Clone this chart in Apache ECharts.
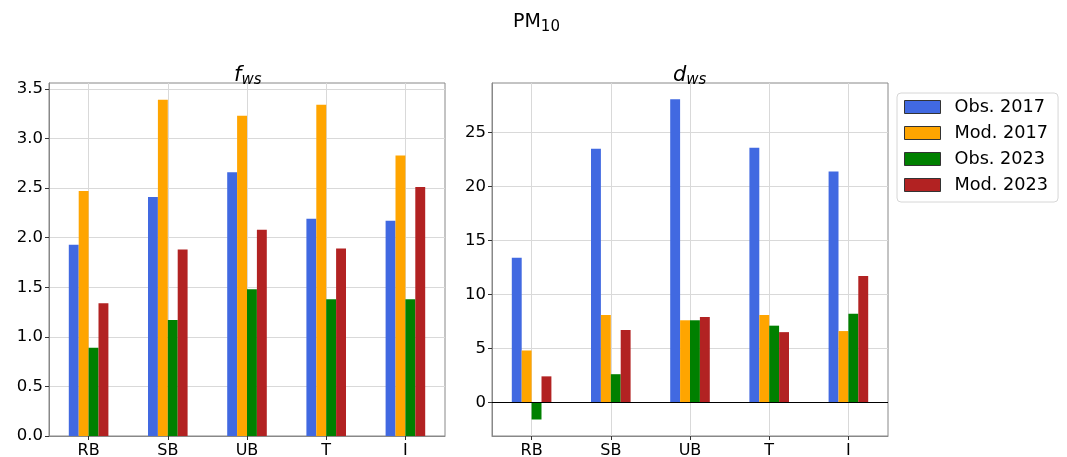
<!DOCTYPE html>
<html>
<head>
<meta charset="utf-8">
<script src="https://cdn.jsdelivr.net/npm/echarts@6/dist/echarts.min.js"></script>
<style>
  html, body { margin: 0; padding: 0; background: #fff; }
  #chart { width: 1067px; height: 457px; }
</style>
</head>
<body>
<div id="chart"></div>
<script>
// data
const stations = ['RB', 'SB', 'UB', 'T', 'I']
const seriesNames = ['Obs. 2017', 'Mod. 2017', 'Obs. 2023', 'Mod. 2023']
const colors = ['#4169E1', '#FFA500', '#008000', '#B22222']

// f_ws
const fwsObs2017 = [1.93, 2.41, 2.66, 2.19, 2.17]
const fwsMod2017 = [2.47, 3.39, 3.23, 3.34, 2.83]
const fwsObs2023 = [0.89, 1.17, 1.48, 1.38, 1.38]
const fwsMod2023 = [1.34, 1.88, 2.08, 1.89, 2.51]

// d_ws
const dwsObs2017 = [13.4, 23.5, 28.1, 23.6, 21.4]
const dwsMod2017 = [4.8, 8.1, 7.6, 8.1, 6.6]
const dwsObs2023 = [-1.6, 2.6, 7.6, 7.1, 8.2]
const dwsMod2023 = [2.4, 6.7, 7.9, 6.5, 11.7]

const fwsTicks = [0, 0.5, 1, 1.5, 2, 2.5, 3, 3.5]
const dwsTicks = [0, 5, 10, 15, 20, 25]

const font = 'DejaVu Sans'
const chart = echarts.init(document.getElementById('chart'))

const makeX = (gridIndex) => ({
  type: 'category',
  gridIndex: gridIndex,
  data: stations,
  axisLine: { show: true, onZero: false, lineStyle: { color: '#888' } },
  axisTick: { show: true, alignWithLabel: true, length: 4, lineStyle: { color: '#333' } },
  axisLabel: { color: '#000', fontSize: 16, fontFamily: font, margin: 7 },
  splitLine: { show: true, alignWithLabel: true, lineStyle: { color: '#d9d9d9' } }
})

const makeY = (gridIndex, min, max, ticks, fmt) => ({
  type: 'value',
  gridIndex: gridIndex,
  min: min,
  max: max,
  axisLine: { show: true, lineStyle: { color: '#888' } },
  axisTick: { show: true, length: 4, customValues: ticks, lineStyle: { color: '#333' } },
  axisLabel: { color: '#000', fontSize: 16.5, fontFamily: font, margin: 6,
    customValues: ticks, formatter: fmt },
  splitLine: { show: true, lineStyle: { color: '#d9d9d9' } }
})

const makeBar = (name, data, idx, color) => ({
  name: name,
  type: 'bar',
  xAxisIndex: idx,
  yAxisIndex: idx,
  data: data,
  barGap: '0%',
  barCategoryGap: '50%',
  itemStyle: { color: color },
  emphasis: { disabled: true }
})

const leftData = [fwsObs2017, fwsMod2017, fwsObs2023, fwsMod2023]
const rightData = [dwsObs2017, dwsMod2017, dwsObs2023, dwsMod2023]

const series = []
seriesNames.forEach((n, i) => series.push(makeBar(n, leftData[i], 0, colors[i])))
seriesNames.forEach((n, i) => series.push(makeBar(n, rightData[i], 1, colors[i])))
// black zero line on the d_ws panel
series[7].markLine = {
  silent: true,
  symbol: 'none',
  label: { show: false },
  lineStyle: { color: '#000', type: 'solid', width: 1 },
  data: [{ yAxis: 0 }]
}

const subTitle = (main, sub) => ({
  text: '{m|' + main + '}{s|' + sub + '}',
  textStyle: {
    rich: {
      m: { fontFamily: font, fontStyle: 'italic', fontWeight: 'normal', fontSize: 21, color: '#000' },
      s: { fontFamily: font, fontStyle: 'italic', fontWeight: 'normal', fontSize: 15, color: '#000', padding: [10, 0, 0, 0] }
    }
  }
})

chart.setOption({
  animation: false,
  title: [
    {
      left: 508, top: 5,
      text: '{m|PM}{s|10}',
      textStyle: { rich: {
        m: { fontFamily: font, fontWeight: 'normal', fontSize: 19, color: '#000' },
        s: { fontFamily: font, fontWeight: 'normal', fontSize: 15, color: '#000', padding: [10, 0, 0, 0] }
      } }
    },
    Object.assign({ left: 229, top: 58 }, subTitle('f', 'ws')),
    Object.assign({ left: 668, top: 58 }, subTitle('d', 'ws'))
  ],
  legend: {
    orient: 'vertical',
    left: 897,
    top: 93,
    padding: [5, 10, 8, 7],
    icon: 'rect',
    itemWidth: 36,
    itemHeight: 13,
    itemGap: 8,
    backgroundColor: '#fff',
    borderColor: '#d6d6d6',
    borderWidth: 1,
    borderRadius: 4,
    textStyle: { fontFamily: font, fontSize: 17.7, color: '#000', padding: [0, 0, 0, 9] },
    itemStyle: { borderColor: '#333', borderWidth: 1 },
    data: seriesNames
  },
  grid: [
    { left: 49, top: 83, width: 396, height: 353, outerBoundsMode: 'none',
      show: true, borderColor: '#888', borderWidth: 1 },
    { left: 492, top: 83, width: 396, height: 353, outerBoundsMode: 'none',
      show: true, borderColor: '#888', borderWidth: 1 }
  ],
  xAxis: [makeX(0), makeX(1)],
  yAxis: [
    makeY(0, 0, 3.56, fwsTicks, (v) => v.toFixed(1)),
    makeY(1, -3.13, 29.6, dwsTicks, (v) => String(v))
  ],
  series: series
})
</script>
</body>
</html>
